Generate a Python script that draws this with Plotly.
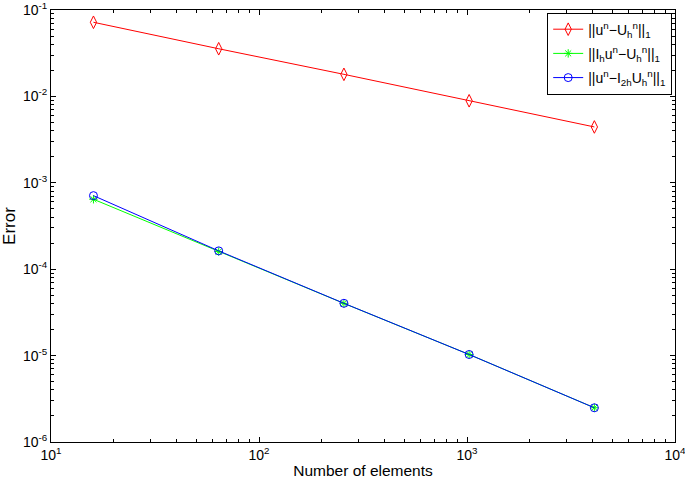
import plotly.graph_objects as go

elements = [16, 64, 256, 1024, 4096]
err_u_U = [0.0721, 0.0356, 0.0180, 0.0089, 0.00443]
err_Ihu_U = [6.45e-4, 1.60e-4, 4.02e-5, 1.03e-5, 2.49e-6]
err_u_I2hU = [7.1e-4, 1.63e-4, 4.03e-5, 1.03e-5, 2.49e-6]

names = [
    "||u<sup>n</sup>−U<sub>h</sub><sup>n</sup>||<sub>1</sub>",
    "||I<sub>h</sub>u<sup>n</sup>−U<sub>h</sub><sup>n</sup>||<sub>1</sub>",
    "||u<sup>n</sup>−I<sub>2h</sub>U<sub>h</sub><sup>n</sup>||<sub>1</sub>",
]

xtickvals = [10, 100, 1000, 10000]
xticktext = ["10<sup>1</sup>", "10<sup>2</sup>", "10<sup>3</sup>", "10<sup>4</sup>"]
ytickvals = [1e-6, 1e-5, 1e-4, 1e-3, 1e-2, 1e-1]
yticktext = ["10<sup>-6</sup>", "10<sup>-5</sup>", "10<sup>-4</sup>",
             "10<sup>-3</sup>", "10<sup>-2</sup>", "10<sup>-1</sup>"]

xminor = [m * 10 ** d for d in range(1, 4) for m in range(2, 10)]
yminor = [m * 10.0 ** d for d in range(-6, -1) for m in range(2, 10)]

FONT = "Liberation Sans, Arial"

fig = go.Figure()
fig.add_trace(go.Scatter(x=elements, y=err_u_U, mode="lines+markers", name=names[0], legendgroup="a",
                         line=dict(color="#ff0000", width=1),
                         marker=dict(symbol="diamond-tall-open", size=9, color="#ff0000", line=dict(width=1))))
fig.add_trace(go.Scatter(x=elements, y=err_Ihu_U, mode="lines+markers", name=names[1], legendgroup="b",
                         line=dict(color="#00ff00", width=1),
                         marker=dict(symbol="asterisk-open", size=7, color="#00ff00", line=dict(width=1, color="#00ff00"))))
fig.add_trace(go.Scatter(x=elements, y=err_u_I2hU, mode="lines+markers", name=names[2], legendgroup="c",
                         line=dict(color="#0000ff", width=1),
                         marker=dict(symbol="circle-open", size=8, color="#0000ff", line=dict(width=1))))

axis_common = dict(
    showgrid=False, zeroline=False, showline=True, linecolor="black", linewidth=1,
    mirror="allticks", ticks="inside", ticklen=5, tickcolor="black", tickwidth=1,
    tickfont=dict(family=FONT, size=14, color="black"),
    automargin=False, ticklabeloverflow="allow",
)

fig.update_xaxes(type="log", range=[1, 4], tickmode="array", tickvals=xtickvals, ticktext=xticktext,
                 minor=dict(tickmode="array", tickvals=xminor, ticks="inside", ticklen=3,
                            tickcolor="black", tickwidth=1, showgrid=False),
                 title=dict(text="Number of elements", font=dict(family=FONT, size=15.5, color="black"), standoff=5),
                 **axis_common)
fig.update_yaxes(type="log", range=[-6, -1], tickmode="array", tickvals=ytickvals, ticktext=yticktext,
                 minor=dict(tickmode="array", tickvals=yminor, ticks="inside", ticklen=3,
                            tickcolor="black", tickwidth=1, showgrid=False),
                 title=dict(text="Error", font=dict(family=FONT, size=17, color="black"), standoff=4),
                 **axis_common)

fig.update_layout(
    width=685, height=479,
    margin=dict(l=51, r=10, t=10, b=37),
    paper_bgcolor="white", plot_bgcolor="white",
    font=dict(family=FONT, color="black"),
    legend=dict(x=0.9955, y=0.994, xanchor="right", yanchor="top",
                bgcolor="white", bordercolor="black", borderwidth=1,
                tracegroupgap=3,
                font=dict(family=FONT, size=14, color="black")),
    showlegend=True,
)

fig.write_html("out.html", config={"displayModeBar": False},
               post_script="document.body.style.margin='0px';document.body.style.overflow='hidden';")
